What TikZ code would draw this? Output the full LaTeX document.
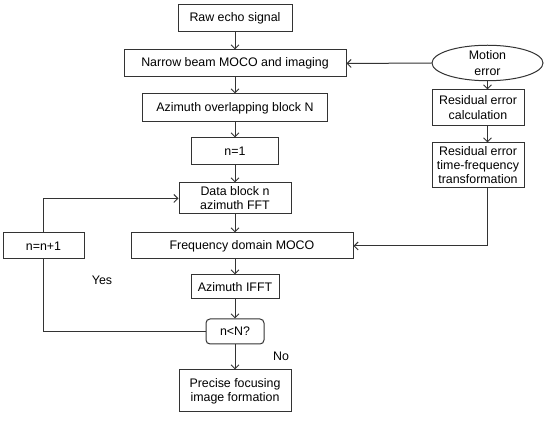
\documentclass[tikz,border=0pt]{standalone}
\usepackage{fontspec}
\setmainfont{Liberation Sans}
\usetikzlibrary{arrows.meta,shapes.geometric}
\begin{document}
\begin{tikzpicture}[x=1pt,y=-1pt,
  box/.style={draw=black!80,line width=1pt,inner sep=0pt,align=center,font=\fontsize{12.4}{14}\selectfont},
  arr/.style={draw=black!80,line width=1pt,-{Straight Barb[length=4pt,width=8pt]}},
  ln/.style={draw=black!80,line width=1pt},
  lbl/.style={font=\fontsize{12.4}{14}\selectfont}]
\useasboundingbox (0,0) rectangle (550,422);
\node[box,minimum width=114pt,minimum height=27pt] (raw) at (235,18.5) {Raw echo signal};
\node[box,minimum width=222pt,minimum height=27pt] (narrow) at (235,63.5) {Narrow beam MOCO and imaging};
\node[box,minimum width=185pt,minimum height=28pt] (azi) at (235,108) {Azimuth overlapping block N};
\node[box,minimum width=87pt,minimum height=27pt] (n1) at (235,151.5) {n=1};
\node[box,minimum width=112pt,minimum height=31pt] (data) at (235,198.5) {Data block n\\azimuth FFT};
\node[box,minimum width=222pt,minimum height=26pt] (freq) at (242,246) {Frequency domain MOCO};
\node[box,minimum width=81pt,minimum height=26pt] (nn1) at (43.5,246) {n=n+1};
\node[box,minimum width=88pt,minimum height=24pt] (ifft) at (235,287) {Azimuth IFFT};
\node[box,rounded corners=4pt,minimum width=58pt,minimum height=25pt] (cond) at (235,331.5) {n<N?};
\node[box,minimum width=112pt,minimum height=42pt] (prec) at (235,391) {Precise focusing\\image formation};
\node[box,ellipse,inner sep=0pt,minimum width=111pt,minimum height=28pt,font=\fontsize{12.4}{16}\selectfont] (motion) at (487.5,63) {Motion\\error};
\node[box,minimum width=92pt,minimum height=36pt,font=\fontsize{12.4}{15}\selectfont] (res1) at (478,108) {Residual error\\calculation};
\node[box,minimum width=92pt,minimum height=45pt] (res2) at (478,165.5) {Residual error\\time-frequency\\transformation};
\node[lbl] (yes) at (102,280) {Yes};
\node[lbl] (no) at (281,356) {No};
\draw[arr] (raw) -- (narrow);
\draw[arr] (narrow) -- (azi);
\draw[arr] (azi) -- (n1);
\draw[arr] (n1) -- (data);
\draw[arr] (data.south) -- (data.south |- freq.north);
\draw[arr] (data.south |- freq.south) -- (ifft.north);
\draw[arr] (ifft) -- (cond);
\draw[arr] (cond) -- (prec);
\draw[arr] (motion.west) -- (narrow.east);
\draw[arr] (motion.south) -- (motion.south |- res1.north);
\draw[arr] (motion.south |- res1.south) -- (motion.south |- res2.north);
\draw[arr] (motion.south |- res2.south) |- (freq.east);
\draw[ln] (cond.west) -| (nn1.south);
\draw[arr] (nn1.north) |- (data.west);
\end{tikzpicture}
\end{document}
